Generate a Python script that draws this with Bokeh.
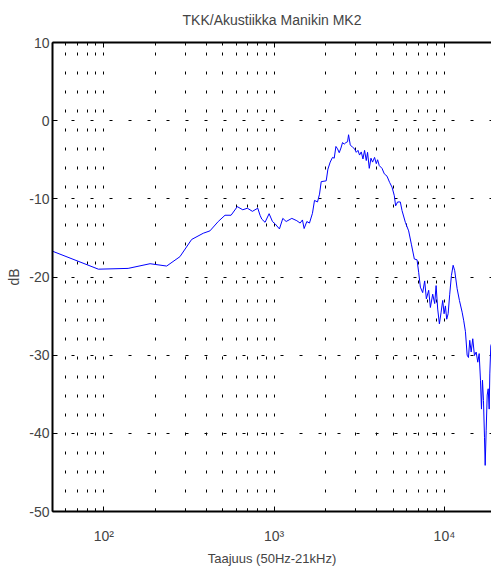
from bokeh.plotting import figure
from bokeh.models import FixedTicker, LogAxis, ColumnDataSource
from bokeh.embed import file_html
from bokeh.resources import INLINE

# ---- data ----
freq_hz = [50, 93, 139, 187, 234, 280, 328, 384, 420, 470, 515, 559, 608, 655, 697,
           746, 802, 827, 847, 885, 935, 978, 1014, 1075, 1125, 1177, 1271, 1360, 1422,
           1467, 1501, 1557, 1613, 1680, 1727, 1798, 1848, 1891, 2023, 2070, 2135, 2203,
           2254, 2307, 2357, 2412, 2469, 2523, 2581, 2641, 2700, 2737, 2800, 2888, 2968,
           3037, 3107, 3175, 3249, 3325, 3398, 3477, 3538, 3621, 3705, 3786, 3890, 3981,
           4052, 4146, 4301, 4437, 4602, 4767, 4925, 5080, 5170, 5312, 5510, 5638, 5896,
           6166, 6396, 6661, 6909, 7061, 7226, 7454, 7658, 7836, 8084, 8272, 8535, 8768,
           8937, 9132, 9345, 9563, 9772, 9958, 10136, 10316, 10515, 10745, 10995, 11250,
           11497, 11876, 12252, 12708, 12987, 13289, 13598, 13841, 14086, 14357, 14671,
           15012, 15362, 15698, 15997, 16283, 16503, 16729, 16958, 17190, 17353, 17590,
           17831, 18075, 18322, 18472, 18724, 19000]
level_db = [-16.7, -19.0, -18.9, -18.3, -18.6, -17.4, -15.2, -14.4, -14.1, -12.9, -12.1,
            -12.1, -11.0, -11.4, -11.2, -11.6, -11.2, -12.1, -12.6, -13.0, -11.9, -12.9,
            -13.2, -13.85, -12.5, -12.9, -12.5, -12.8, -13.1, -12.7, -13.8, -12.9, -13.1,
            -11.85, -10.2, -10.4, -9.4, -7.8, -7.7, -6.2, -5.3, -4.7, -4.8, -3.3, -3.6,
            -4.1, -3.5, -2.8, -3.0, -2.8, -2.7, -1.8, -3.1, -3.4, -3.6, -4.05, -3.8, -4.4,
            -4.0, -4.9, -3.8, -5.1, -4.05, -6.1, -4.8, -5.3, -4.7, -5.5, -5.0, -5.75, -6.1,
            -6.8, -7.1, -7.9, -8.5, -9.6, -10.9, -10.4, -10.4, -11.5, -13.0, -14.1, -15.8,
            -17.7, -17.8, -19.4, -21.3, -22.0, -20.5, -22.8, -21.7, -23.9, -22.2, -23.4,
            -21.1, -24.1, -26.0, -24.5, -23.0, -24.7, -23.7, -25.4, -24.7, -22.2, -19.8,
            -18.5, -19.2, -21.5, -23.0, -24.5, -25.6, -27.0, -30.0, -30.3, -28.1, -29.6,
            -27.9, -30.05, -29.6, -30.9, -29.8, -33.2, -36.9, -33.2, -35.8, -40.5, -44.1,
            -39.6, -35.1, -34.3, -36.9, -32.4, -28.8, -28.4]

x_major_ticks = [100, 1000, 10000]
x_minor_ticks = [50, 60, 70, 80, 90,
                 200, 300, 400, 500, 600, 700, 800, 900,
                 2000, 3000, 4000, 5000, 6000, 7000, 8000, 9000, 20000]
x_tick_labels = {100: "10\u00b2", 1000: "10\u00b3", 10000: "10\u2074"}
y_ticks = [-50, -40, -30, -20, -10, 0, 10]
y_tick_labels = {-50: "-50", -40: "-40", -30: "-30", -20: "-20", -10: "-10", 0: "0", 10: "10"}

title_text = "TKK/Akustiikka Manikin MK2"
x_label = "Taajuus (50Hz-21kHz)"
y_label = "dB"

FONT = "Liberation Sans"

p = figure(width=491, height=568, x_axis_type="log", title=None,
           x_range=(50, 18900), y_range=(-50, 10),
           output_backend="svg", toolbar_location=None,
           min_border_left=52, min_border_right=0,
           min_border_top=42, min_border_bottom=56)
p.background_fill_color = "white"
p.border_fill_color = "white"
p.outline_line_color = None

src = ColumnDataSource(dict(f=freq_hz, db=level_db))
p.line("f", "db", source=src, line_color="#0000ff", line_width=1)

xt = FixedTicker(ticks=x_major_ticks, minor_ticks=x_minor_ticks)
yt = FixedTicker(ticks=y_ticks)

# bottom axis
xa = p.xaxis[0]
xa.ticker = xt
xa.major_label_overrides = x_tick_labels
xa.axis_label = x_label
xa.major_tick_in = 5
xa.major_tick_out = 0
xa.minor_tick_in = 3
xa.minor_tick_out = 0
xa.axis_line_width = 2
xa.major_label_standoff = 16
xa.axis_label_standoff = 4
xa.major_label_text_font = FONT
xa.major_label_text_font_size = "14px"
xa.axis_label_text_font = FONT
xa.axis_label_text_font_size = "13px"
xa.axis_label_text_font_style = "normal"

# top axis: ticks only, carrying the chart title as its label
top = LogAxis(ticker=xt, major_tick_in=5, major_tick_out=0, minor_tick_in=3,
              minor_tick_out=0, axis_line_width=2, major_label_standoff=0,
              major_label_text_font_size="1px", major_label_text_alpha=0,
              axis_label=title_text, axis_label_standoff=15,
              axis_label_text_font=FONT, axis_label_text_font_size="14px",
              axis_label_text_font_style="normal")
p.add_layout(top, "above")

# left axis
ya = p.yaxis[0]
ya.ticker = yt
ya.major_label_overrides = y_tick_labels
ya.major_tick_in = 5
ya.major_tick_out = 0
ya.minor_tick_line_color = None
ya.axis_line_width = 2
ya.major_label_standoff = 3
ya.major_label_text_font = FONT
ya.major_label_text_font_size = "14px"
ya.axis_label = y_label
ya.axis_label_text_font = FONT
ya.axis_label_text_font_size = "14px"
ya.axis_label_text_font_style = "normal"
ya.axis_label_standoff = 4

# grids
p.xgrid.ticker = xt
p.xgrid.grid_line_color = "black"
p.xgrid.grid_line_dash = "3 16"
p.xgrid.minor_grid_line_color = "black"
p.xgrid.minor_grid_line_dash = "3 16"
p.ygrid.ticker = yt
p.ygrid.grid_line_color = "black"
p.ygrid.grid_line_dash = "3 16"

open("out.html", "w").write(file_html(p, INLINE))
